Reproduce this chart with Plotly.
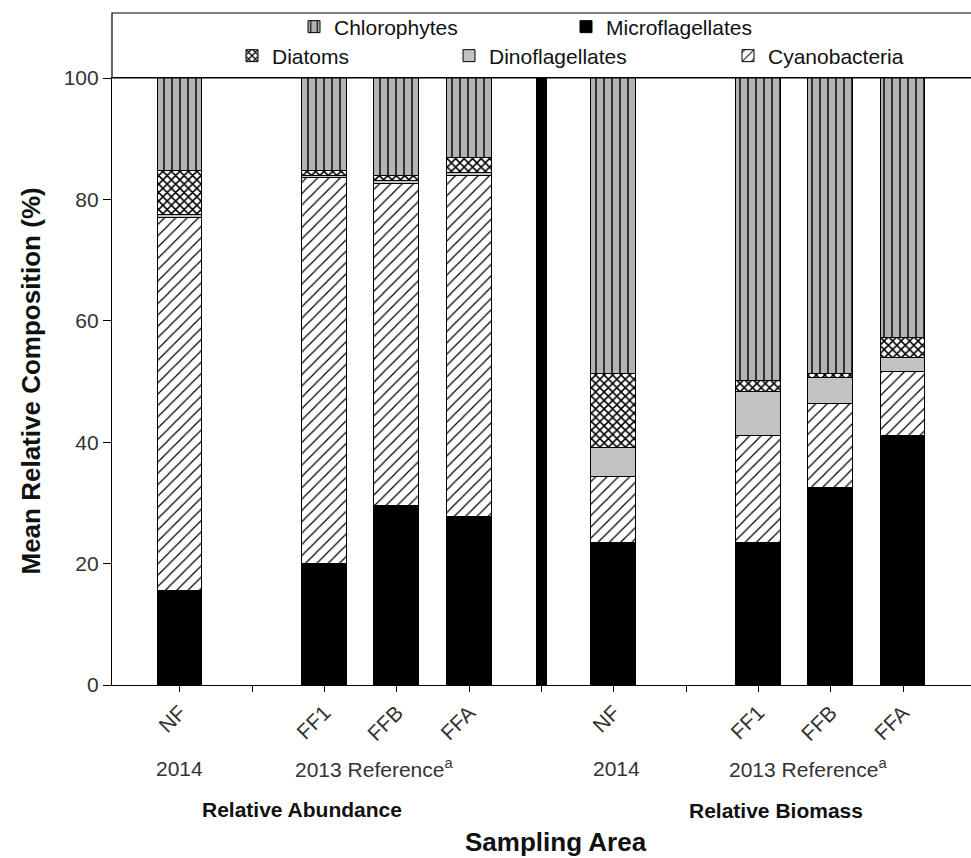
import plotly.graph_objects as go

# ---------------- data ----------------
sites = ["NF", "FF1", "FFB", "FFA"]
panels = ["Relative Abundance", "Relative Biomass"]

micro_abund = [15.5, 20.0, 29.5, 27.6]
cyano_abund = [61.5, 63.5, 53.1, 56.3]
dino_abund = [0.5, 0.3, 0.4, 0.4]
diatom_abund = [7.2, 0.9, 0.9, 2.5]
chloro_abund = [15.3, 15.3, 16.1, 13.2]

micro_bio = [23.4, 23.4, 32.4, 41.1]
cyano_bio = [10.8, 17.7, 13.9, 10.5]
dino_bio = [4.8, 7.1, 4.2, 2.3]
diatom_bio = [12.3, 1.9, 0.8, 3.3]
chloro_bio = [48.7, 49.9, 48.7, 42.8]

separator_value = [100]
y_ticks = [0, 20, 40, 60, 80, 100]

# ---------------- slot layout ----------------
site_slot = [0, 2, 3, 4]          # NF, gap, FF1, FFB, FFA
panel_offset = 6                  # second panel starts after separator
sep_slot = 5
x_abund = site_slot
x_bio = [s + panel_offset for s in site_slot]
x_all = x_abund + x_bio
n_slots = 11
tick_labels = sites + sites

FONT = "Arial, Liberation Sans, sans-serif"

series = [
    dict(name="Microflagellates", ab=micro_abund, bi=micro_bio, legend="legend2",
         color="black", pattern=None),
    dict(name="Cyanobacteria", ab=cyano_abund, bi=cyano_bio, legend="legend5",
         color="white", pattern=dict(shape="/", size=8, solidity=0.15,
                                     fgcolor="black", bgcolor="white", fillmode="replace")),
    dict(name="Dinoflagellates", ab=dino_abund, bi=dino_bio, legend="legend4",
         color="#c2c2c2", pattern=None),
    dict(name="Diatoms", ab=diatom_abund, bi=diatom_bio, legend="legend3",
         color="white", pattern=dict(shape="x", size=6, solidity=0.45,
                                     fgcolor="black", bgcolor="white", fillmode="replace")),
    dict(name="Chlorophytes", ab=chloro_abund, bi=chloro_bio, legend="legend",
         color="#b3b3b3", pattern=dict(shape="|", size=8, solidity=0.18,
                                       fgcolor="black", bgcolor="#b3b3b3", fillmode="replace")),
]

fig = go.Figure()
for s in series:
    marker = dict(color=s["color"], line=dict(color="black", width=1))
    if s["pattern"] is not None:
        marker["pattern"] = s["pattern"]
    fig.add_trace(go.Bar(
        x=x_all, y=s["ab"] + s["bi"], name=s["name"], width=0.62,
        marker=marker, legend=s["legend"], hoverinfo="skip",
    ))

fig.add_trace(go.Bar(
    x=[sep_slot], y=separator_value, width=0.14, showlegend=False,
    marker=dict(color="black", line=dict(color="black", width=0)), hoverinfo="skip",
))

# ---------------- layout ----------------
L, T, B_PX, H, W = 112, 78, 685, 858, 971
plot_h = B_PX - T
def py(px):
    return (B_PX - px) / plot_h
def px_paper(px):
    return (px - L) / (W - L)

legend_common = dict(orientation="h", bgcolor="rgba(0,0,0,0)", borderwidth=0,
                     font=dict(family=FONT, size=21, color="#111"),
                     xanchor="left", yanchor="middle", itemclick=False)
row1, row2 = py(27), py(56)
legend_pos = {
    "legend": (334, row1),
    "legend2": (606, row1),
    "legend3": (272, row2),
    "legend4": (489, row2),
    "legend5": (768, row2),
}
legend_layout = {}
for key, (tx, ty) in legend_pos.items():
    legend_layout[key] = dict(legend_common, x=px_paper(tx - 40), y=ty)

annotations = []
tfont = dict(family=FONT, size=21, color="#333")
for i, off in enumerate([0, panel_offset]):
    annotations.append(dict(x=off + 0.04 * i, y=py(768), xref="x", yref="paper",
                            text="2014", showarrow=False, font=tfont,
                            xanchor="center", yanchor="middle"))
    annotations.append(dict(x=off + 2.68, y=py(768), xref="x", yref="paper",
                            text="2013 Reference<sup>a</sup>", showarrow=False,
                            font=tfont, xanchor="center", yanchor="middle"))
annotations.append(dict(x=1.69, y=py(809), xref="x", yref="paper", text="<b>" + panels[0] + "</b>",
                        showarrow=False, font=dict(family=FONT, size=21, color="#111"),
                        xanchor="center", yanchor="middle"))
annotations.append(dict(x=8.24, y=py(810), xref="x", yref="paper", text="<b>" + panels[1] + "</b>",
                        showarrow=False, font=dict(family=FONT, size=21, color="#111"),
                        xanchor="center", yanchor="middle"))
annotations.append(dict(x=px_paper(556), y=py(842), xref="paper", yref="paper",
                        text="<b>Sampling Area</b>", showarrow=False,
                        font=dict(family=FONT, size=26, color="#111"),
                        xanchor="center", yanchor="middle"))
annotations.append(dict(x=px_paper(30), y=0.5, xref="paper", yref="paper",
                        text="<b>Mean Relative Composition (%)</b>", showarrow=False,
                        textangle=-90, font=dict(family=FONT, size=26, color="#111"),
                        xanchor="center", yanchor="middle"))

fig.update_layout(
    width=W, height=H,
    margin=dict(l=L, r=0, t=T, b=H - B_PX, pad=0),
    paper_bgcolor="white", plot_bgcolor="white",
    barmode="stack", bargap=0,
    annotations=annotations,
    shapes=[dict(type="rect", xref="paper", yref="paper", x0=0, x1=1.02,
                 y0=1, y1=py(13), line=dict(color="black", width=1.2), fillcolor="rgba(0,0,0,0)")],
    **legend_layout,
)
fig.update_xaxes(range=[-0.94, 10.94], tickvals=x_all, ticktext=tick_labels,
                 tickangle=-45, ticks="outside", ticklen=6, tickcolor="black",
                 minor=dict(tickvals=list(range(n_slots)), ticks="outside", ticklen=6,
                            tickcolor="black", showgrid=False),
                 showline=True, linecolor="black", linewidth=1.2, mirror=True,
                 showgrid=False, zeroline=False,
                 tickfont=dict(family=FONT, size=21, color="#333"))
fig.update_yaxes(range=[0, 100], tickvals=y_ticks, ticks="outside", ticklen=8,
                 tickcolor="black", showline=True, linecolor="black", linewidth=1.2,
                 showgrid=False, zeroline=False,
                 tickfont=dict(family=FONT, size=21, color="#333"))

fig.write_html("out.html")
